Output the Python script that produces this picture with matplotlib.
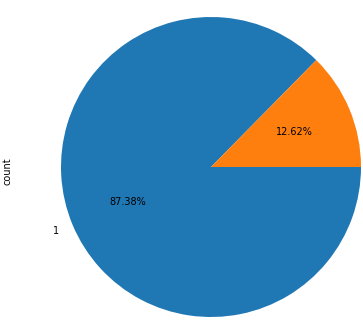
import matplotlib
matplotlib.use('Agg')
import matplotlib.pyplot as plt

labels = ['1', '0']
counts = [90, 13]
colors = ['#1f77b4', '#ff7f0e']

fig = plt.figure(figsize=(3.63, 3.2), dpi=100)

# pie centre ~(211,167) px, radius ~150 px; pie axes spans +-1.25 radii
cx, cy, r_px = 211, 320 - 167, 150
half = 1.25 * r_px
ax = fig.add_axes([(cx - half) / 363, (cy - half) / 320,
                   2 * half / 363, 2 * half / 320])

ax.pie(counts, labels=labels, colors=colors, autopct='%.2f%%',
       counterclock=False, startangle=0,
       textprops={'fontsize': 7})
ax.set_ylabel('count', fontsize=7)
ax.yaxis.set_label_coords(-0.03, 0.49)

fig.savefig('out.png', dpi=100)
plt.close()
